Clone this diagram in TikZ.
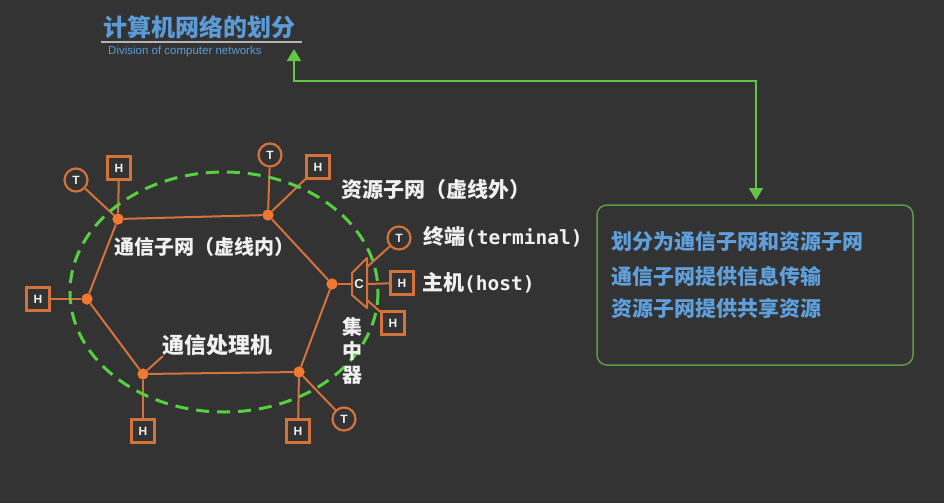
\documentclass[tikz,border=0pt]{standalone}
\usepackage{fontspec}
\usetikzlibrary{arrows.meta,calc}
\newfontfamily\cjk{Noto Sans CJK SC}
\newfontfamily\monof{DejaVu Sans Mono}
\newfontfamily\latinsans{Liberation Sans}
\definecolor{boardbg}{HTML}{333333}
\definecolor{wire}{HTML}{D4723C}
\definecolor{hubfill}{HTML}{F07830}
\definecolor{ring}{HTML}{55D040}
\definecolor{arrowgreen}{HTML}{62C548}
\definecolor{frame}{HTML}{5F9A45}
\definecolor{titleblue}{HTML}{5A9BD8}
\definecolor{textblue}{HTML}{5E9FDC}
\definecolor{labelwhite}{HTML}{F0F0F0}
\definecolor{rule}{HTML}{B4B4B4}
\begin{document}
\begin{tikzpicture}[x=1pt,y=-1pt,
  hub/.style={circle,fill=hubfill,inner sep=0pt,minimum size=11pt},
  hostbox/.style={draw=wire,line width=2.4pt,minimum size=23pt,inner sep=0pt,
    text=labelwhite,font=\latinsans\bfseries\fontsize{12}{12}\selectfont},
  termcirc/.style={circle,draw=wire,line width=2.2pt,minimum size=23pt,inner sep=0pt,
    text=labelwhite,font=\latinsans\bfseries\fontsize{12}{12}\selectfont},
  link/.style={draw=wire,line width=2pt},
  ringline/.style={draw=ring,line width=3pt,dash pattern=on 13pt off 8pt},
  label/.style={anchor=west,inner sep=0pt,text=labelwhite,font=\cjk\bfseries\fontsize{20}{24}\selectfont},
  infotext/.style={anchor=west,inner sep=0pt,text=textblue,font=\cjk\bfseries\fontsize{21}{24}\selectfont},
  garrow/.style={draw=arrowgreen,line width=1.6pt,
    {Triangle[length=12pt,width=14pt,fill=arrowgreen]}-{Triangle[length=12pt,width=14pt,fill=arrowgreen]}}
]
% board
\fill[boardbg] (0,0) rectangle (944,503);
\useasboundingbox (0,0) rectangle (944,503);

% heading
\node[anchor=west,inner sep=0pt,text=titleblue,font=\cjk\bfseries\fontsize{24}{28}\selectfont] (title) at (103,27) {计算机网络的划分};
\coordinate (ruleL) at (101,42);
\coordinate (ruleR) at (302,42);
\draw[rule,line width=2pt] (ruleL) -- (ruleR);
\node[anchor=west,inner sep=0pt,text=titleblue,font=\latinsans\fontsize{11.5}{13}\selectfont] (subtitle) at (108,52) {Division of computer networks};

% summary box
\node[draw=frame,line width=1.5pt,rounded corners=10pt,minimum width=316pt,minimum height=160pt] (box) at (755,285) {};
\node[infotext] (info1) at (611,242) {划分为通信子网和资源子网};
\node[infotext] (info2) at (611,276) {通信子网提供信息传输};
\node[infotext] (info3) at (611,308) {资源子网提供共享资源};

% link between heading and box
\coordinate (tipA) at (294,49);
\coordinate (bend) at (756,81);
\coordinate (tipB) at (756,200);
\draw[garrow] (tipA) |- (bend) -- (tipB);

% communication processors
\node[hub] (A) at (118,219) {};
\node[hub] (B) at (268,215) {};
\node[hub] (C) at (332,284) {};
\node[hub] (D) at (299,372) {};
\node[hub] (E) at (143,374) {};
\node[hub] (F) at (87,299) {};

% terminals and hosts
\node[termcirc] (T1) at (76,180) {T};
\node[hostbox] (H1) at (119,168) {H};
\node[termcirc] (T2) at (270,155) {T};
\node[hostbox] (H2) at (318,167) {H};
\node[hostbox] (H3) at (38,299) {H};
\node[hostbox] (H4) at (143,431) {H};
\node[hostbox] (H5) at (298,431) {H};
\node[termcirc] (T3) at (344,419) {T};
\node[termcirc] (T4) at (399,238) {T};
\node[hostbox] (H6) at (402,283) {H};
\node[hostbox] (H7) at (393,323) {H};

% concentrator
\node[inner sep=0pt,text=labelwhite,font=\latinsans\bfseries\fontsize{13}{13}\selectfont] (conc) at (359,284) {C};
\coordinate (cIn) at (352,284);
\coordinate (cOut) at (367,284);
\coordinate (cTop) at (367,267);
\coordinate (cBot) at (367,300);

% ring of processors
\draw[link] (A) -- (B) -- (C) -- (D) -- (E) -- (F) -- (A);
% attachments
\draw[link] (A) -- (T1);
\draw[link] (A) -- (H1);
\draw[link] (B) -- (T2);
\draw[link] (B) -- (H2);
\draw[link] (F) -- (H3);
\draw[link] (E) -- (H4);
\draw[link] (D) -- (H5);
\draw[link] (D) -- (T3);
\draw[link] (C) -- (cIn);
\draw[link] (cOut) -- (H6);
\draw[link] (cTop) -- (T4);
\draw[link] (cBot) -- (H7);
\draw[link,line join=round] (352,273) -- (367,258) -- (367,308) -- (352,295) -- cycle;

% boundary of the communication subnet
\draw[ringline] (224,292) ellipse [x radius=154, y radius=120];

% processor dots on top
\foreach \n in {A,B,C,D,E,F} \fill[hubfill] (\n) circle (5.5pt);

% labels
\node[label,font=\cjk\bfseries\fontsize{21}{24}\selectfont] (outer) at (341,190) {资源子网（虚线外）};
\node[label] (inner) at (114,247) {通信子网（虚线内）};
\node[label,font=\cjk\bfseries\fontsize{21}{24}\selectfont] (termlabel) at (423,237) {终端{\monof\bfseries\fontsize{19.5}{24}\selectfont(terminal)}};
\node[label,font=\cjk\bfseries\fontsize{21}{24}\selectfont] (hostlabel) at (422,283) {主机{\monof\bfseries\fontsize{19.5}{24}\selectfont(host)}};
\node[label,font=\cjk\bfseries\fontsize{22}{24}\selectfont] (proc) at (162,345) {通信处理机};
\coordinate (procTip) at (163,356);
\draw[link] (E) -- (procTip);
\node[inner sep=0pt,align=center,text=labelwhite,font=\cjk\bfseries\fontsize{20}{24}\selectfont] (conclabel) at (352,351) {集\\中\\器};
\end{tikzpicture}
\end{document}
